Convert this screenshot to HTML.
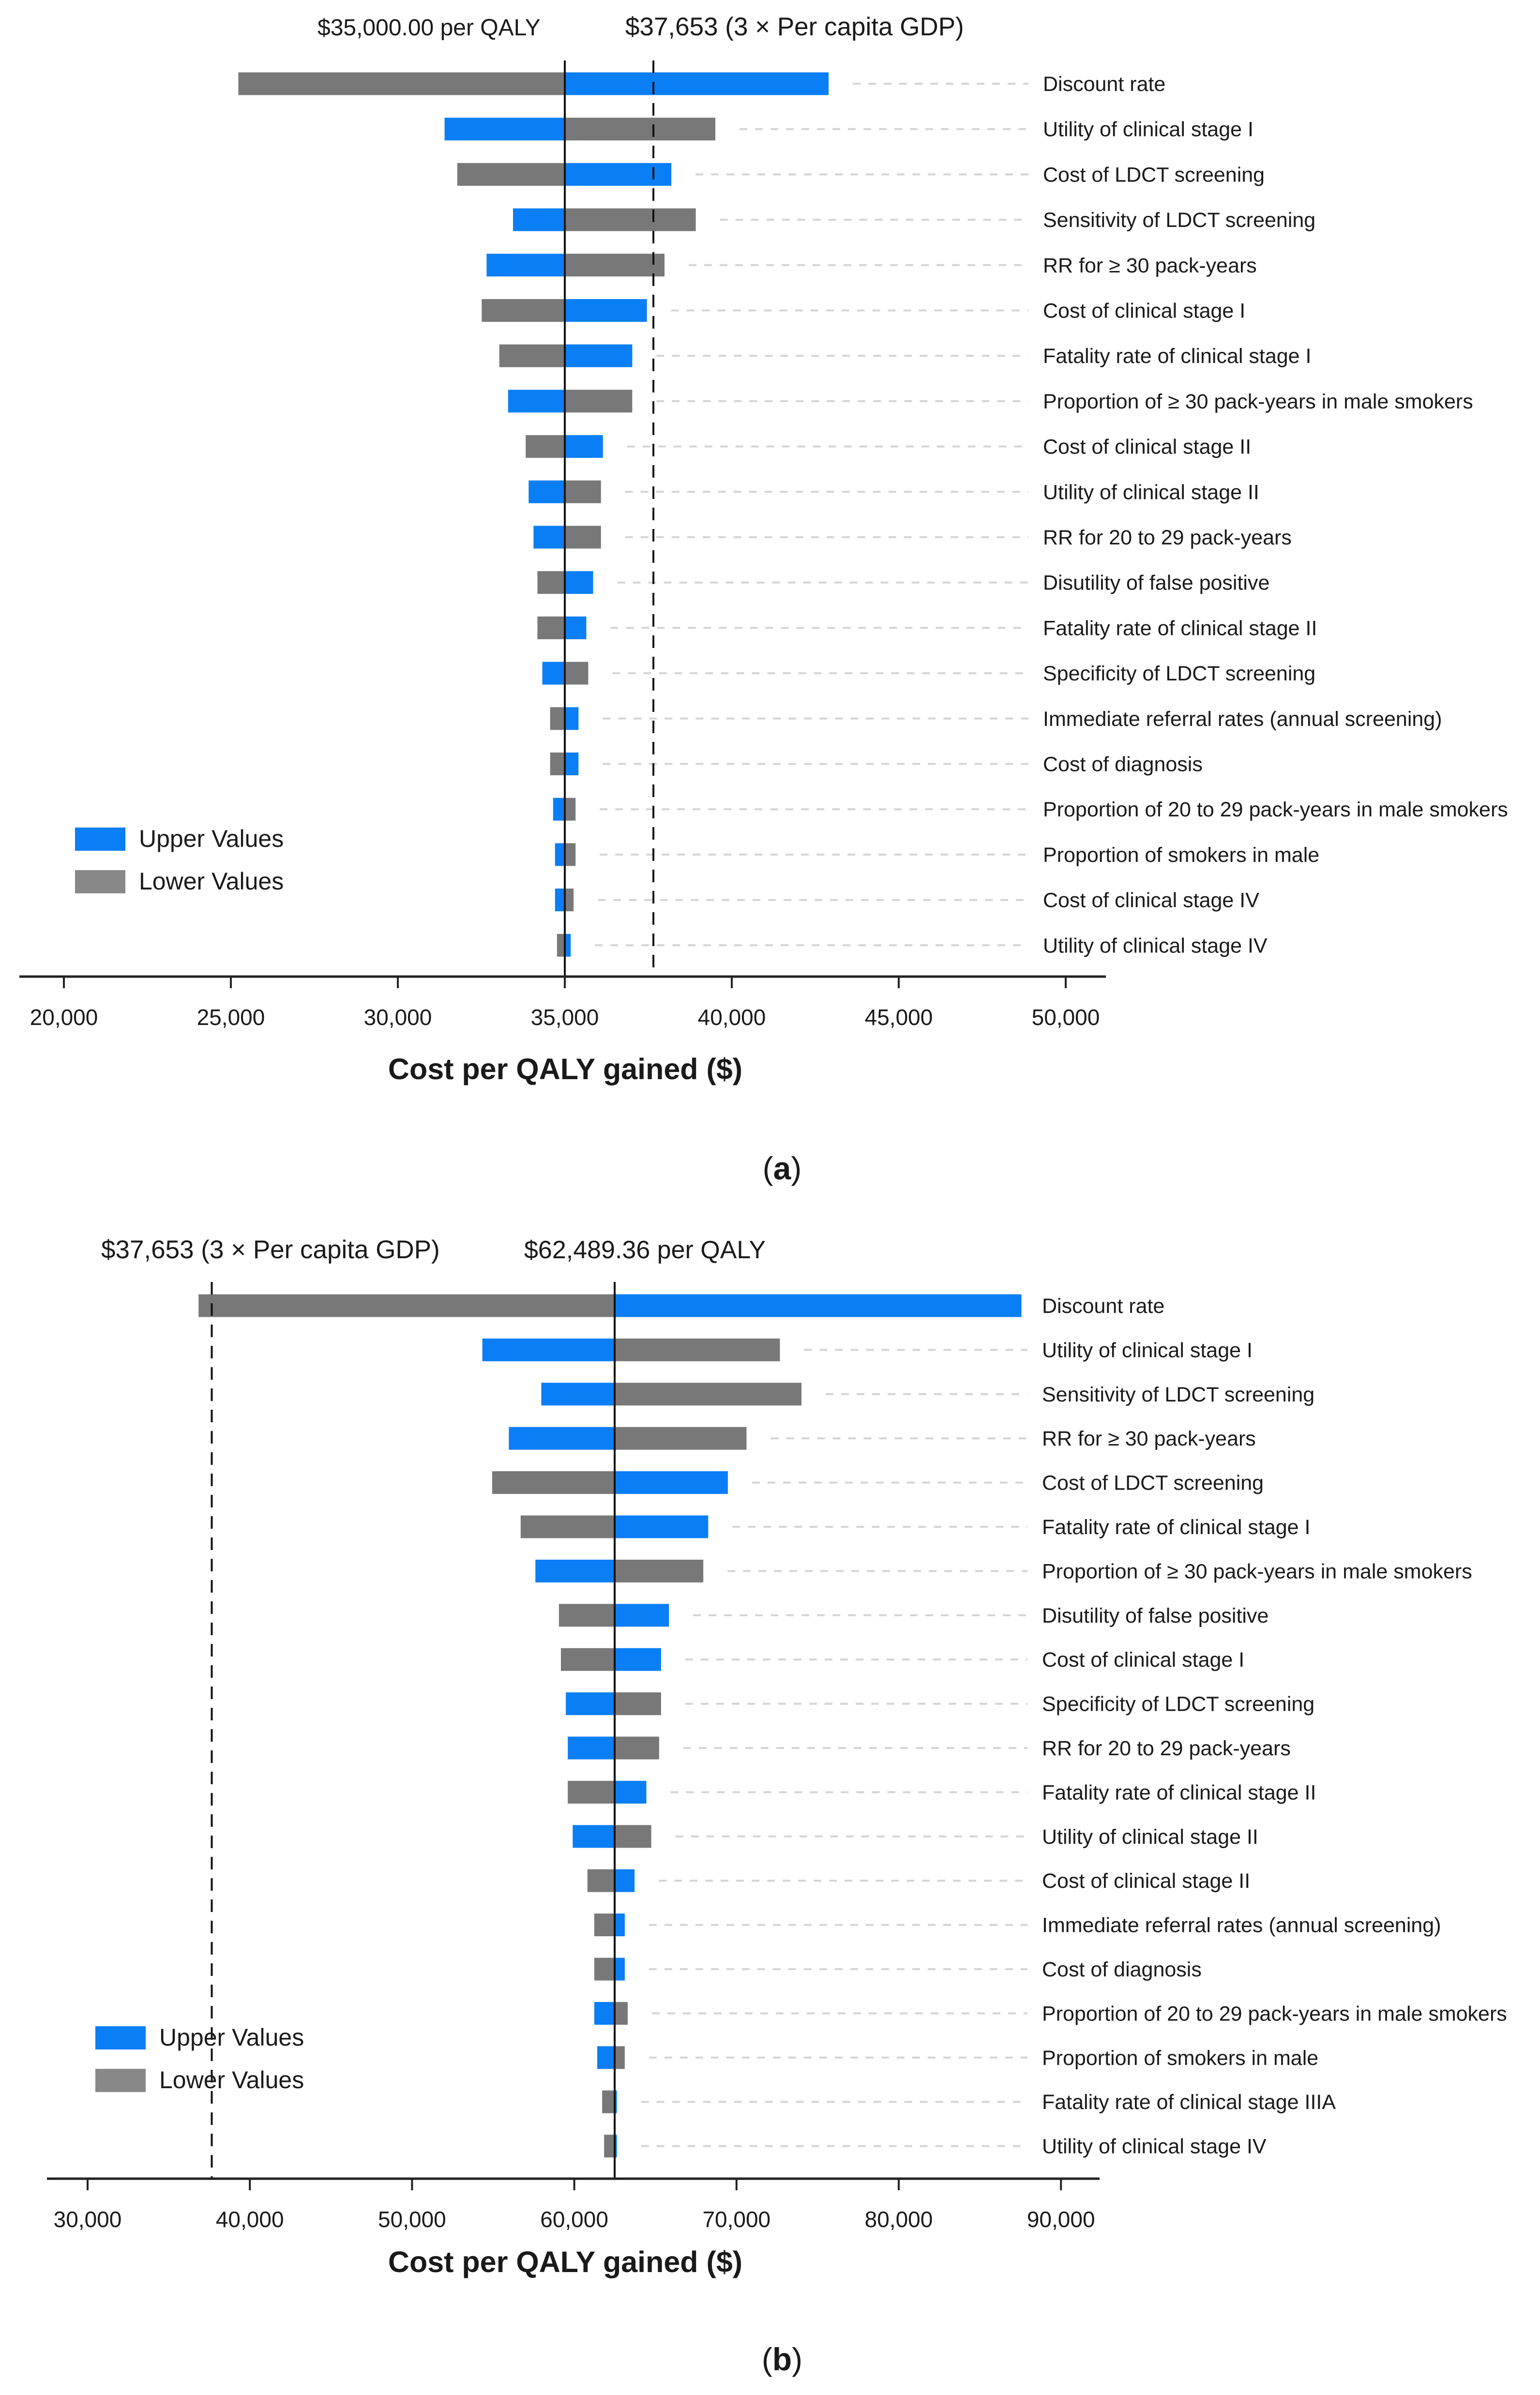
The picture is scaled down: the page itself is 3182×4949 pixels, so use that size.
<!DOCTYPE html>
<html><head><meta charset="utf-8"><style>
html,body{margin:0;padding:0;background:#fff}
svg{display:block}
text{font-family:"Liberation Sans",sans-serif;fill:#1a1a1a}
</style></head><body>
<svg id="svg" width="3182" height="4949" viewBox="0 0 3182 4949" xmlns="http://www.w3.org/2000/svg"></svg>
<script>
const labelsA = ["Discount rate","Utility of clinical stage I","Cost of LDCT screening","Sensitivity of LDCT screening","RR for \u2265 30 pack-years","Cost of clinical stage I","Fatality rate of clinical stage I","Proportion of \u2265 30 pack-years in male smokers","Cost of clinical stage II","Utility of clinical stage II","RR for 20 to 29 pack-years","Disutility of false positive","Fatality rate of clinical stage II","Specificity of LDCT screening","Immediate referral rates (annual screening)","Cost of diagnosis","Proportion of 20 to 29 pack-years in male smokers","Proportion of smokers in male","Cost of clinical stage IV","Utility of clinical stage IV"];
const upperA = [42900,31400,38190,33449,32658,37459,37020,33302,36141,33917,34063,35849,35644,34327,35410,35410,34649,34707,34707,35176];
const lowerA = [25224,39508,31780,38922,37986,32512,33039,37020,33829,36083,36083,34180,34180,35702,34561,34561,35322,35322,35263,34766];
const ticksA = [20000,25000,30000,35000,40000,45000,50000];
const baseA = 35000, thrA = 37653;

const labelsB = ["Discount rate","Utility of clinical stage I","Sensitivity of LDCT screening","RR for \u2265 30 pack-years","Cost of LDCT screening","Fatality rate of clinical stage I","Proportion of \u2265 30 pack-years in male smokers","Disutility of false positive","Cost of clinical stage I","Specificity of LDCT screening","RR for 20 to 29 pack-years","Fatality rate of clinical stage II","Utility of clinical stage II","Cost of clinical stage II","Immediate referral rates (annual screening)","Cost of diagnosis","Proportion of 20 to 29 pack-years in male smokers","Proportion of smokers in male","Fatality rate of clinical stage IIIA","Utility of clinical stage IV"];
const upperB = [87564,54333,57965,55967,69466,68255,57602,65834,65350,59478,59599,64442,59902,63716,63111,63111,61233,61415,62626,62626];
const lowerB = [36840,72674,74006,70616,54938,56694,67952,59054,59175,65350,65229,59599,64745,60810,61233,61233,63292,63111,61718,61839];
const ticksB = [30000,40000,50000,60000,70000,80000,90000];
const baseB = 62489.36, thrB = 37653;

const svg = document.getElementById('svg');
const NS = "http://www.w3.org/2000/svg";
function mk(tag, attrs, parent){const e=document.createElementNS(NS,tag);for(const k in attrs)e.setAttribute(k,attrs[k]);(parent||svg).appendChild(e);return e;}

function drawChart(cfg){
  const g = mk('g',{});
  
  
  const x = v => cfg.x0 + (v - cfg.v0) * cfg.pxPer;
  const y = i => cfg.y0 + i * cfg.step;
  const bh = 47;
  cfg.labels.forEach((lab,i)=>{
    const cy = y(i);
    const maxR = Math.max(x(cfg.upper[i]), x(cfg.lower[i]));
    if (maxR + 80 < cfg.labelX - 30) {
      const gl = mk('line',{x1:maxR+50,x2:cfg.labelX-30,y1:cy,y2:cy,stroke:'#d4d4d4','stroke-width':4,'stroke-dasharray':'16 16'},g);
      
      
    }
    const xb = x(cfg.base);
    const lo = x(cfg.lower[i]), up = x(cfg.upper[i]);
    const r1 = mk('rect',{x:Math.min(lo,xb),y:cy-bh/2,width:Math.abs(lo-xb),height:bh,fill:'#787878'},g);
    
    
    const r2 = mk('rect',{x:Math.min(up,xb),y:cy-bh/2,width:Math.abs(up-xb),height:bh,fill:'#0a7ef5'},g);
    
    
    const t = mk('text',{x:cfg.labelX,y:cy+15,'font-size':43},g);
    t.textContent = lab;
    
    
  });
  const cl = mk('line',{x1:x(cfg.base),x2:x(cfg.base),y1:cfg.lineTop,y2:cfg.axisY,stroke:'#111','stroke-width':4},g);
  
  
  const dl = mk('line',{x1:x(cfg.thr),x2:x(cfg.thr),y1:cfg.lineTop,y2:cfg.axisY,stroke:'#111','stroke-width':4,'stroke-dasharray':'26 18'},g);
  
  
  const ax = mk('line',{x1:cfg.axL,x2:cfg.axR,y1:cfg.axisY,y2:cfg.axisY,stroke:'#222','stroke-width':5},g);
  
  
  cfg.ticks.forEach(v=>{
    const tk = mk('line',{x1:x(v),x2:x(v),y1:cfg.axisY,y2:cfg.axisY+24,stroke:'#222','stroke-width':4},g);
    
    
    const tl = mk('text',{x:x(v),y:cfg.axisY+100,'font-size':46,'text-anchor':'middle'},g);
    tl.textContent = v.toLocaleString('en-US');
    
    
  });
  const at = mk('text',{x:cfg.titleX,y:cfg.titleY,'font-size':61,'font-weight':'bold','text-anchor':'middle'},g);
  at.textContent = 'Cost per QALY gained ($)';
  
  
  cfg.headers.forEach(h=>{
    const ht = mk('text',{x:h.x,y:h.y,'font-size':h.fs||50},g);
    ht.textContent = h.t;
    
    
  });
  const lb = mk('rect',{x:cfg.legX,y:cfg.legY,width:104,height:48,fill:'#0a7ef5'},g);
  
  
  const lbt = mk('text',{x:cfg.legX+132,y:cfg.legY+40,'font-size':50},g);
  lbt.textContent='Upper Values';
  
  
  const lg = mk('rect',{x:cfg.legX,y:cfg.legY+88,width:104,height:48,fill:'#888'},g);
  
  
  const lgt = mk('text',{x:cfg.legX+132,y:cfg.legY+128,'font-size':50},g);
  lgt.textContent='Lower Values';
  
  
  const cap = mk('text',{x:cfg.capX,y:cfg.capY,'font-size':66,'text-anchor':'middle','font-family':'Liberation Serif, serif'},g);
  cap.innerHTML = cfg.cap;
  
  
}

drawChart({name:'tornado-chart-a',labels:labelsA,upper:upperA,lower:lowerA,ticks:ticksA,base:baseA,thr:thrA,
  x0:1167,v0:35000,pxPer:345/5000,y0:173,step:93.7,labelX:2155,lineTop:125,axisY:2018,axL:40,axR:2285,
  titleX:1168,titleY:2230,headers:[{t:'$35,000.00 per QALY',x:656,y:73,fs:48},{t:'$37,653 (3 \u00d7 Per capita GDP)',x:1292,y:73,fs:53}],
  legX:155,legY:1710,capX:1616,capY:2437,cap:'(<tspan font-weight="bold">a</tspan>)'});
drawChart({name:'tornado-chart-b',labels:labelsB,upper:upperB,lower:lowerB,ticks:ticksB,base:baseB,thr:thrB,
  x0:181,v0:30000,pxPer:335.2/10000,y0:2698,step:91.4,labelX:2153,lineTop:2649,axisY:4502,axL:97,axR:2272,
  titleX:1168,titleY:4695,headers:[{t:'$37,653 (3 \u00d7 Per capita GDP)',x:209,y:2600,fs:53},{t:'$62,489.36 per QALY',x:1083,y:2600,fs:52}],
  legX:197,legY:4187,capX:1616,capY:4898,cap:'(<tspan font-weight="bold">b</tspan>)'});
</script>
</body></html>
